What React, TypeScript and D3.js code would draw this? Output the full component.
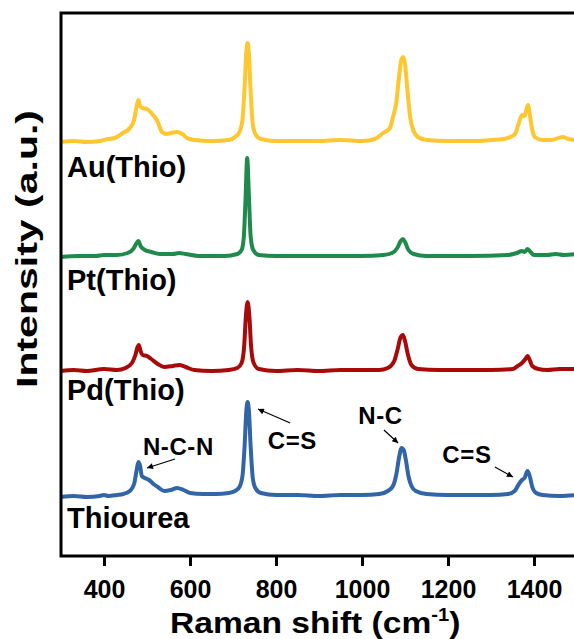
import React, { useEffect, useRef } from 'react';
import * as d3 from 'd3';

// spectra: [Raman shift, intensity above own baseline]
const thiourea: [number, number][] = [
  [300, -1], [330, 0], [360, -1], [390, 0], [400, 1], [410, 0], [430, 1], [445, 2], [460, 5],
  [470, 12], [476, 26], [480, 34], [484, 30], [488, 20], [495, 18], [505, 16], [515, 12],
  [525, 9], [540, 5], [555, 6], [570, 8], [585, 6], [600, 3], [630, 2], [660, 2], [690, 3],
  [705, 5], [715, 9], [722, 20], [727, 50], [731, 85], [734, 94], [737, 85], [741, 50],
  [746, 18], [752, 8], [765, 3], [800, 1], [850, 1], [900, 0], [950, 1], [1000, 1],
  [1040, 2], [1060, 5], [1072, 10], [1080, 22], [1086, 38], [1092, 48], [1097, 46],
  [1102, 36], [1108, 20], [1115, 10], [1125, 5], [1150, 2], [1200, 1], [1250, 1],
  [1300, 1], [1340, 2], [1355, 5], [1365, 12], [1372, 16], [1378, 18], [1385, 25],
  [1390, 20], [1396, 9], [1405, 3], [1420, 1], [1460, 0], [1500, 1],
];
const pdThio: [number, number][] = [
  [300, 0], [330, 1], [360, 0], [400, 2], [430, 1], [450, 3], [465, 8], [473, 16],
  [478, 24], [481, 26], [485, 20], [490, 16], [500, 15], [510, 12], [525, 7], [540, 4],
  [560, 5], [575, 6], [590, 4], [610, 1], [650, 0], [690, 1], [710, 3], [720, 8],
  [726, 25], [730, 55], [734, 69], [738, 55], [742, 25], [748, 8], [760, 2], [800, 0],
  [850, 1], [900, 0], [950, 1], [1000, 1], [1040, 1], [1060, 3], [1075, 10], [1083, 22],
  [1090, 34], [1095, 36], [1100, 30], [1107, 16], [1115, 6], [1130, 2], [1180, 1],
  [1250, 1], [1300, 1], [1350, 2], [1362, 5], [1372, 8], [1380, 12], [1385, 15],
  [1390, 11], [1396, 5], [1410, 2], [1430, 1], [1460, 2], [1500, 2],
];
const ptThio: [number, number][] = [
  [300, -1], [340, 0], [380, 0], [400, 1], [430, 1], [455, 3], [468, 7], [476, 13],
  [480, 15], [485, 10], [495, 6], [510, 4], [530, 2], [560, 2], [575, 3], [590, 2],
  [620, 0], [680, 0], [710, 2], [720, 6], [725, 18], [729, 55], [733, 98], [737, 60],
  [741, 20], [747, 6], [760, 1], [800, 0], [900, 0], [1000, 0], [1050, 1], [1070, 3],
  [1082, 8], [1090, 15], [1095, 17], [1100, 14], [1108, 6], [1120, 2], [1150, 0],
  [1250, 0], [1340, 1], [1360, 3], [1372, 5], [1378, 4], [1385, 7], [1392, 4],
  [1400, 1], [1430, 1], [1450, 2], [1470, 1], [1500, 2],
];
const auThio: [number, number][] = [
  [300, 0], [330, 1], [360, 0], [390, 1], [410, 3], [425, 4], [444, 9], [460, 14],
  [470, 22], [476, 36], [480, 42], [484, 36], [490, 34], [500, 33], [512, 28], [523, 22],
  [535, 10], [545, 8], [555, 9], [570, 10], [582, 8], [593, 4], [610, 2], [650, 1],
  [690, 2], [705, 5], [715, 10], [722, 22], [727, 55], [731, 90], [734, 99], [737, 88],
  [741, 50], [746, 18], [752, 8], [765, 3], [800, 1], [850, 1], [900, 1], [950, 2],
  [1000, 1], [1030, 3], [1049, 9], [1065, 14], [1072, 25], [1080, 40], [1086, 65],
  [1092, 83], [1096, 85], [1100, 78], [1106, 50], [1112, 25], [1119, 12], [1130, 5],
  [1150, 2], [1200, 1], [1250, 1], [1300, 2], [1330, 3], [1345, 5], [1356, 8],
  [1364, 18], [1372, 27], [1378, 26], [1382, 32], [1386, 37], [1390, 28], [1396, 12],
  [1402, 5], [1420, 2], [1440, 2], [1467, 5], [1480, 3], [1500, 2],
];

const seriesNames = ['Thiourea', 'Pd(Thio)', 'Pt(Thio)', 'Au(Thio)'];
const seriesData = [thiourea, pdThio, ptThio, auThio];
const seriesOffsets = [60, 185, 300, 414];
const seriesColors = ['#3265a7', '#a80a0a', '#1f8a4c', '#fec62f'];
const labelOffsets = [-32, -29, -34, -35];

const xTicks = [400, 600, 800, 1000, 1200, 1400];

// annotations in data units: text centre, arrow start, arrow end
const notes = [
  { text: 'N-C-N', tx: 573, ty: 101, x1: 565, y1: 97, x2: 500, y2: 88 },
  { text: 'C=S', tx: 838, ty: 107, x1: 833, y1: 133, x2: 758, y2: 147 },
  { text: 'N-C', tx: 1043, ty: 132, x1: 1051, y1: 126, x2: 1084, y2: 113 },
  { text: 'C=S', tx: 1244, ty: 93, x1: 1309, y1: 89, x2: 1351, y2: 79 },
];

const W = 574;
const H = 639;
const FONT = "'Liberation Sans', Arial, sans-serif";

const App = () => {
  const ref = useRef<SVGSVGElement>(null);

  useEffect(() => {
    const svg = d3.select(ref.current);
    svg.selectAll('*').remove();

    const x = d3.scaleLinear().domain([300, 1500]).range([61, 577]);
    const y = d3.scaleLinear().domain([0, 543]).range([556, 13]);

    svg
      .append('defs')
      .append('marker')
      .attr('id', 'arr')
      .attr('viewBox', '0 0 10 10')
      .attr('refX', 10)
      .attr('refY', 5)
      .attr('markerWidth', 9)
      .attr('markerHeight', 6)
      .attr('markerUnits', 'userSpaceOnUse')
      .attr('orient', 'auto')
      .append('path')
      .attr('d', 'M0,0L10,5L0,10z')
      .attr('fill', '#000');

    const line = d3
      .line<[number, number]>()
      .curve(d3.curveMonotoneX);

    seriesData.forEach((data, i) => {
      line.x(d => x(d[0])).y(d => y(d[1] + seriesOffsets[i]));
      svg
        .append('path')
        .attr('d', line(data))
        .attr('fill', 'none')
        .attr('stroke', seriesColors[i])
        .attr('stroke-width', 4)
        .attr('stroke-linejoin', 'round');

      svg
        .append('text')
        .attr('x', x(314))
        .attr('y', y(seriesOffsets[i] + labelOffsets[i]))
        .attr('font-family', FONT)
        .attr('font-weight', 'bold')
        .attr('font-size', 29)
        .text(seriesNames[i]);
    });

    // frame
    svg
      .append('path')
      .attr('d', `M${x(1500)},${y(543)}H${x(300)}V${y(0)}H${x(1500)}`)
      .attr('fill', 'none')
      .attr('stroke', '#000')
      .attr('stroke-width', 3);

    const ax = svg
      .append('g')
      .attr('transform', `translate(0,${y(0)})`)
      .call(
        d3
          .axisBottom(x)
          .tickValues(xTicks)
          .tickFormat(d3.format('d'))
          .tickSize(10)
          .tickSizeOuter(0)
      );
    ax.select('.domain').remove();
    ax.selectAll('line').attr('stroke-width', 3);
    ax.selectAll('text')
      .attr('dy', null)
      .attr('y', 42)
      .attr('font-family', FONT)
      .attr('font-weight', 'bold')
      .attr('font-size', 25)
      .attr('fill', '#000');

    const xt = svg
      .append('text')
      .attr('transform', 'translate(170,633) scale(1.12,1)')
      .attr('font-family', FONT)
      .attr('font-weight', 'bold')
      .attr('font-size', 30);
    xt.append('tspan').text('Raman shift (cm');
    xt.append('tspan').attr('font-size', 18).attr('dy', -12).text('-1');
    xt.append('tspan').attr('dy', 12).text(')');

    svg
      .append('text')
      .attr('transform', `translate(37,249) rotate(-90)`)
      .attr('text-anchor', 'middle')
      .attr('font-family', FONT)
      .attr('font-weight', 'bold')
      .attr('font-size', 29)
      .attr('textLength', 278)
      .attr('lengthAdjust', 'spacingAndGlyphs')
      .text('Intensity (a.u.)');

    notes.forEach(n => {
      svg
        .append('text')
        .attr('x', x(n.tx))
        .attr('y', y(n.ty))
        .attr('text-anchor', 'middle')
        .attr('font-family', FONT)
        .attr('font-weight', 'bold')
        .attr('font-size', 24)
        .attr('letter-spacing', 0.6)
        .text(n.text);
      svg
        .append('line')
        .attr('x1', x(n.x1))
        .attr('y1', y(n.y1))
        .attr('x2', x(n.x2))
        .attr('y2', y(n.y2))
        .attr('stroke', '#000')
        .attr('stroke-width', 1.2)
        .attr('marker-end', 'url(#arr)');
    });
  }, []);

  return (
    <svg
      ref={ref}
      width={W}
      height={H}
      style={{ position: 'absolute', left: 0, top: 0, background: '#fff' }}
    />
  );
};

export default App;
